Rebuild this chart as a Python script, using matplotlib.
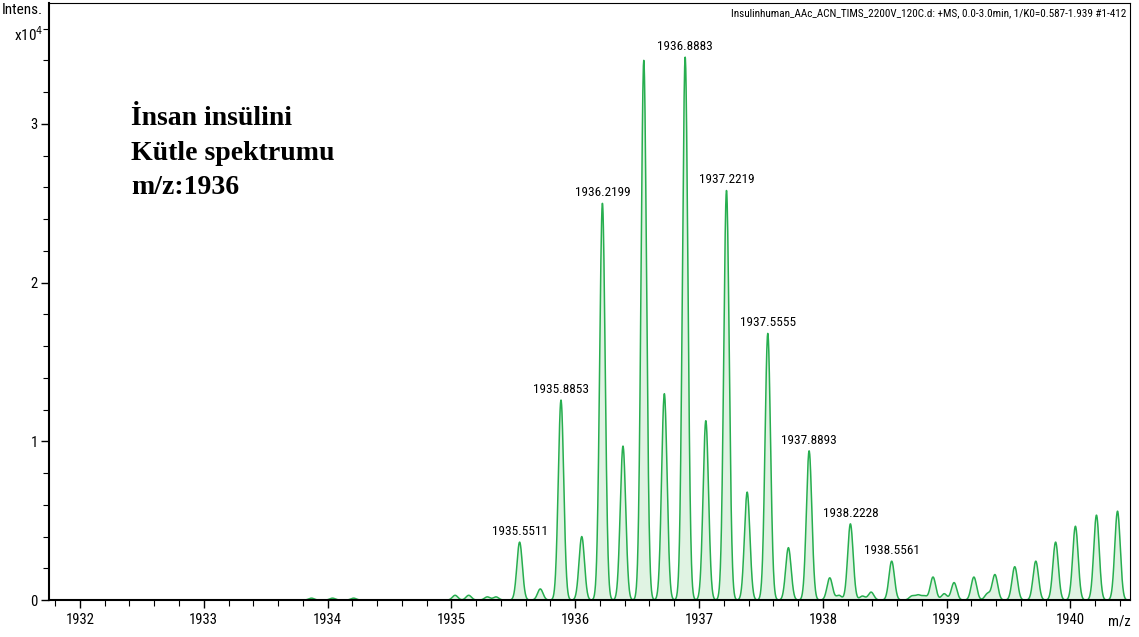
import numpy as np
import matplotlib.pyplot as plt
from matplotlib.ticker import MultipleLocator

# peak centroids (m/z) and intensities (x10^4)
peak_mz = [1933.87, 1934.04, 1934.21,
           1935.03, 1935.14, 1935.29, 1935.36,
           1935.5511, 1935.718, 1935.8853, 1936.053, 1936.2199, 1936.386,
           1936.554, 1936.72, 1936.8883, 1937.055, 1937.2219, 1937.389,
           1937.5555, 1937.722, 1937.8893, 1938.056, 1938.13, 1938.2228,
           1938.32, 1938.39, 1938.5561, 1938.72, 1938.77, 1938.82,
           1938.89, 1938.98, 1939.06, 1939.22, 1939.33, 1939.39,
           1939.55, 1939.72, 1939.88, 1940.04, 1940.21, 1940.38]
peak_int = [0.012, 0.012, 0.012,
            0.03, 0.03, 0.02, 0.02,
            0.365, 0.07, 1.26, 0.40, 2.50, 0.97,
            3.40, 1.30, 3.42, 1.13, 2.58, 0.68,
            1.68, 0.33, 0.94, 0.14, 0.03, 0.48,
            0.025, 0.05, 0.245, 0.025, 0.03, 0.025,
            0.145, 0.04, 0.11, 0.145, 0.04, 0.16,
            0.21, 0.245, 0.365, 0.465, 0.535, 0.56]

labels = ['1935.5511', '1935.8853', '1936.2199', '1936.8883', '1937.2219',
          '1937.5555', '1937.8893', '1938.2228', '1938.5561']

title = ('Insulinhuman_AAc_ACN_TIMS_2200V_120C.d: +MS, 0.0-3.0min, '
         '1/K0=0.587-1.939 #1-412')

plt.rcParams['font.family'] = ['Roboto Condensed', 'Liberation Sans Narrow',
                               'DejaVu Sans']
plt.rcParams['font.stretch'] = 'condensed'

# profile spectrum: gaussian peak shape around each centroid
mz = np.linspace(1931.75, 1940.48, 6000)
sigma = 0.022
intens = np.zeros_like(mz)
for c, h in zip(peak_mz, peak_int):
    intens += h * np.exp(-0.5 * ((mz - c) / sigma) ** 2)

fig = plt.figure(figsize=(11.39, 6.37), dpi=100)
ax = fig.add_axes([0.043, 0.058, 0.949, 0.937])

ax.fill_between(mz, 0, intens, color='#e0f3e3', lw=0)
ax.plot(mz, intens, color='#27ae4f', lw=1.1)

for lab in labels:
    v = float(lab)
    h = peak_int[peak_mz.index(v)]
    ax.annotate(lab, (v, h), xytext=(0, 3), textcoords='offset points',
                ha='center', va='bottom', fontsize=9.5)

ax.set_xlim(1931.75, 1940.48)
ax.set_ylim(0, 3.76)
ax.xaxis.set_major_locator(MultipleLocator(1))
ax.xaxis.set_minor_locator(MultipleLocator(0.2))
ax.yaxis.set_major_locator(MultipleLocator(1))
ax.yaxis.set_minor_locator(MultipleLocator(0.2))
ax.tick_params(which='major', length=6, width=1, labelsize=10.5)
ax.tick_params(axis='y', which='major', pad=2)
ax.tick_params(which='minor', length=4, width=0.8)
for s in ['left', 'bottom']:
    ax.spines[s].set_linewidth(1.5)
for s in ['top', 'right']:
    ax.spines[s].set_linewidth(0.8)

fig.text(0.038, 0.985, 'Intens.', ha='right', va='center', fontsize=11)
fig.text(0.038, 0.945, r'x10$^4$', ha='right', va='center', fontsize=11)
fig.text(0.993, 0.025, 'm/z', ha='right', va='center', fontsize=10.5)

ax.text(0.997, 0.992, title, transform=ax.transAxes, ha='right', va='top',
        fontsize=8)

ax.text(0.076, 0.827, 'İnsan insülini\nKütle spektrumu\nm/z:1936',
        transform=ax.transAxes, ha='left', va='top', fontsize=20,
        fontweight='bold', fontstretch='normal',
        family=['Liberation Serif', 'DejaVu Serif'], linespacing=1.5)

fig.savefig('out.png', dpi=100)
